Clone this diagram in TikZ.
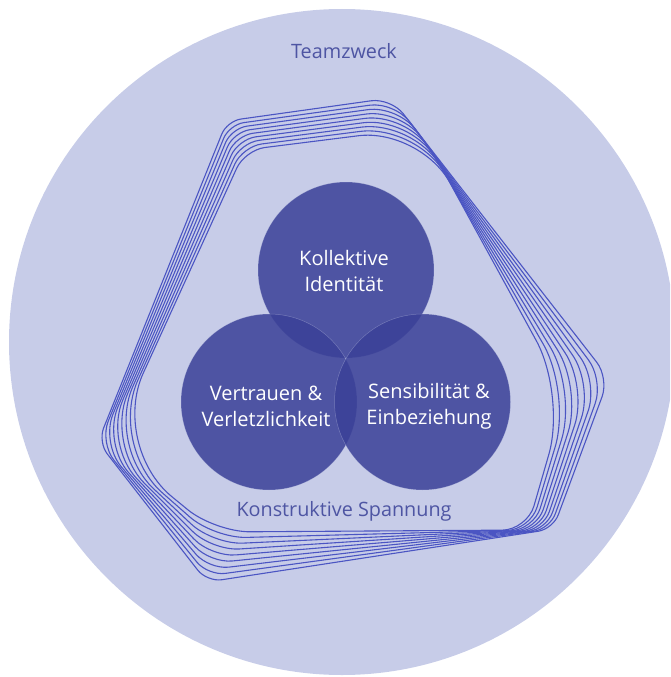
\documentclass[tikz,border=0pt]{standalone}
\usepackage{fontspec}
\setmainfont{Open Sans}
\usetikzlibrary{calc}
\definecolor{bgcircle}{HTML}{C7CCE8}
\definecolor{circfill}{HTML}{3B4198}
\definecolor{outertext}{HTML}{4E55A3}
\definecolor{loopcol}{HTML}{4B55C3}
\tikzset{
  core/.style={circle, fill=circfill, fill opacity=0.86, draw=bgcircle, draw opacity=0.35, line width=0.5pt, minimum size=176, inner sep=0pt},
  coretext/.style={text=white, align=center, font=\fontsize{20}{26}\selectfont},
  outerlabel/.style={text=outertext, font=\fontsize{19.8}{24}\selectfont},
  loopline/.style={draw=loopcol, line width=1.1pt},
}
\begin{document}
\begin{tikzpicture}[x=1pt,y=-1pt]
\useasboundingbox (0,0) rectangle (670,677);
\begin{scope}
\clip (0,0) rectangle (670,677);
\fill[bgcircle] (342,342) circle (333);
\end{scope}
% inner polygon
\coordinate (I1) at (245,150);
\coordinate (I2) at (420,128);
\coordinate (I3) at (566,395);
\coordinate (I4) at (527,530);
\coordinate (I5) at (215,532);
\coordinate (I6) at (110,446);
% outer polygon
\coordinate (O1) at (227,121);
\coordinate (O2) at (391,98);
\coordinate (O3) at (609,378);
\coordinate (O4) at (553,529);
\coordinate (O5) at (207,582);
\coordinate (O6) at (98,442);
\foreach \i in {0,...,8}{
  \pgfmathsetmacro\ff{\i/8}
  \pgfmathsetmacro\ra{55-39*\ff}
  \pgfmathsetmacro\rb{62-42*\ff}
  \pgfmathsetmacro\rc{25-10*\ff}
  \pgfmathsetmacro\rd{35-20*\ff}
  \pgfmathsetmacro\re{80-65*\ff}
  \pgfmathsetmacro\rf{20-6*\ff}
  \coordinate (P1) at ($(I1)!\ff!(O1)$);
  \coordinate (P2) at ($(I2)!\ff!(O2)$);
  \coordinate (P3) at ($(I3)!\ff!(O3)$);
  \coordinate (P4) at ($(I4)!\ff!(O4)$);
  \coordinate (P5) at ($(I5)!\ff!(O5)$);
  \coordinate (P6) at ($(I6)!\ff!(O6)$);
  \coordinate (PM) at ($(P1)!.5!(P2)$);
  \draw[loopline] (PM) [rounded corners=\rb pt] -- (P2) [rounded corners=\rb pt] -- (P3) [rounded corners=\rc pt] -- (P4) [rounded corners=\rd pt] -- (P5) [rounded corners=\re pt] -- (P6) [rounded corners=\rf pt] -- (P1) [rounded corners=\ra pt] -- (PM);
}
\node[core] (top) at (346,270) {};
\node[core] (left) at (269,402) {};
\node[core] (right) at (422.5,402) {};
\node[coretext] (toptext) at (344,271) {Kollektive\\Identität};
\node[coretext] (lefttext) at (266,406) {Vertrauen \&\\Verletzlichkeit};
\node[coretext] (righttext) at (429,406) {Sensibilität \&\\Einbeziehung};
\node[outerlabel] (purpose) at (344,51) {Teamzweck};
\node[outerlabel] (tension) at (344,511) {Konstruktive Spannung};
\end{tikzpicture}
\end{document}
